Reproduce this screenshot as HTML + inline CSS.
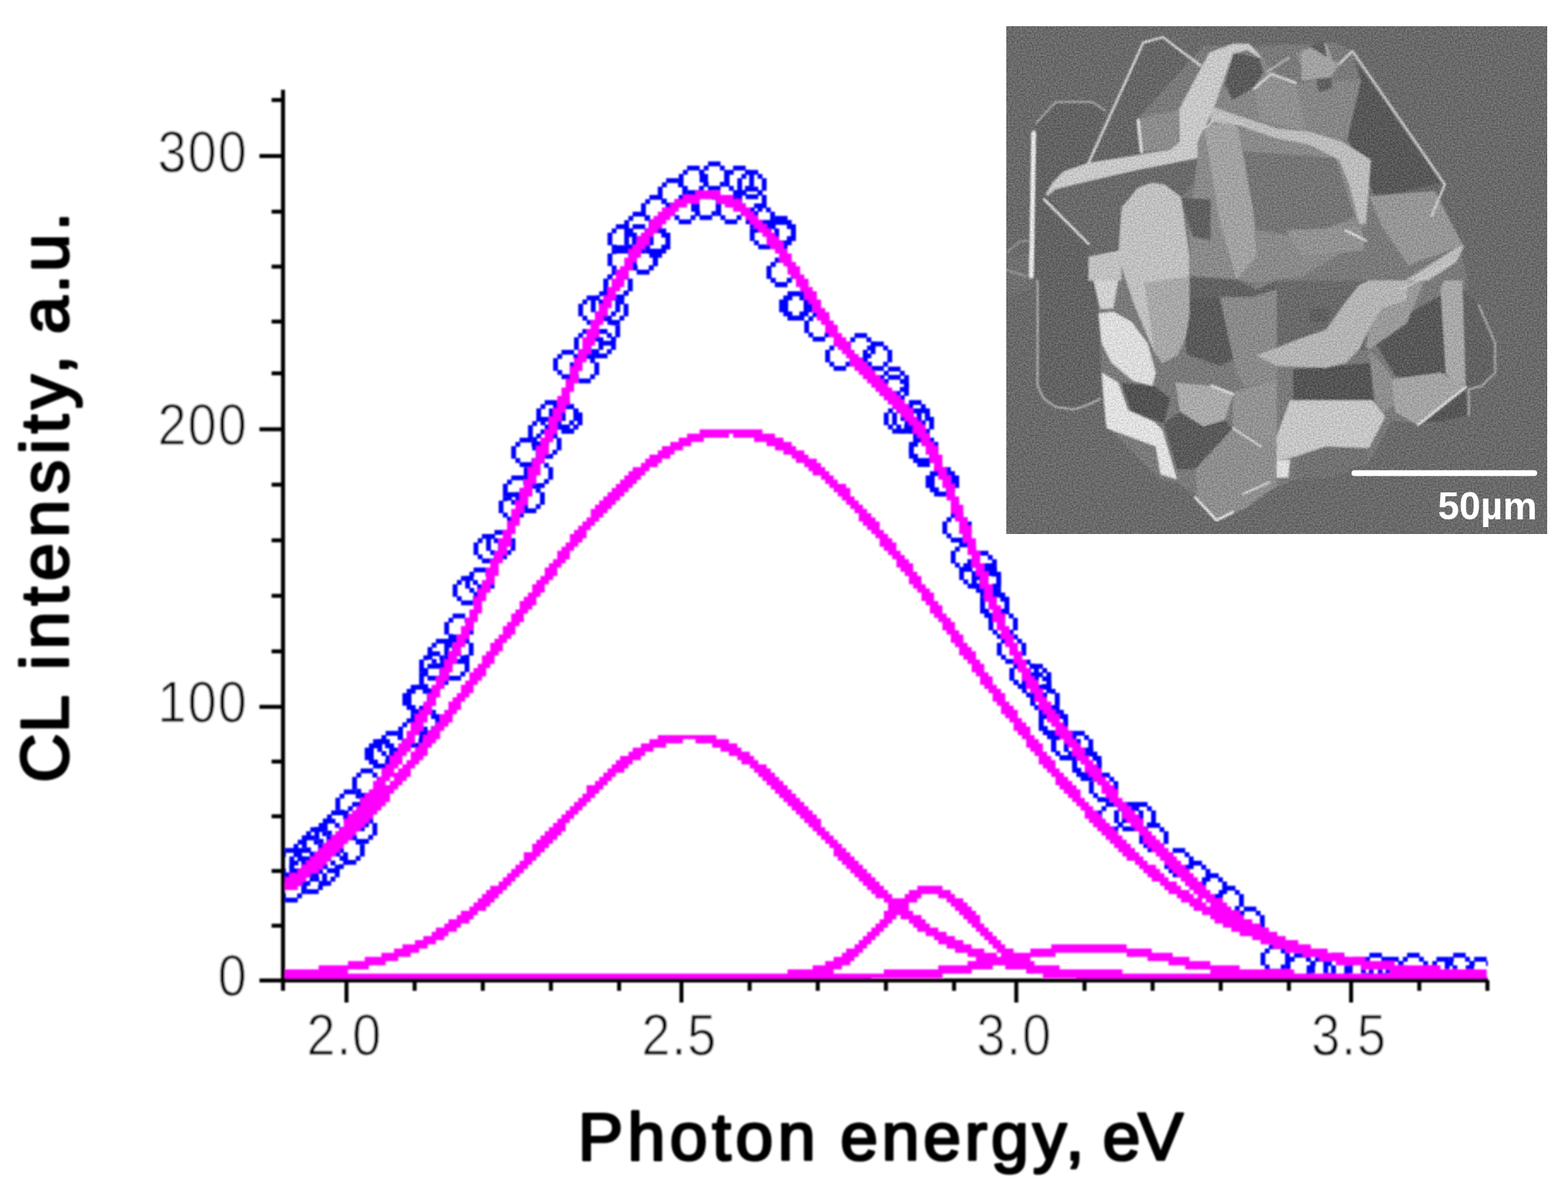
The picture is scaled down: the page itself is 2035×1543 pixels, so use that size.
<!DOCTYPE html>
<html><head><meta charset="utf-8"><title>CL spectrum</title><style>
html,body{margin:0;padding:0;background:#fff;overflow:hidden;}
svg{display:block;}
</style></head><body>
<svg xmlns="http://www.w3.org/2000/svg" xmlns:xlink="http://www.w3.org/1999/xlink" width="2035" height="1543" viewBox="0 0 2035 1543">
<defs><filter id="soft" x="-2%" y="-2%" width="104%" height="104%"><feGaussianBlur stdDeviation="1.1"/></filter></defs>
<defs><path id="c" d="M-8.15,-19.02L8.15,-19.02L8.15,-13.58L13.58,-13.58L13.58,-8.15L19.02,-8.15L19.02,8.15L13.58,8.15L13.58,13.58L8.15,13.58L8.15,19.02L-8.15,19.02L-8.15,13.58L-13.58,13.58L-13.58,8.15L-19.02,8.15L-19.02,-8.15L-13.58,-8.15L-13.58,-13.58L-8.15,-13.58Z M-7.33,-12.77L7.33,-12.77L7.33,-7.33L12.77,-7.33L12.77,7.33L7.33,7.33L7.33,12.77L-7.33,12.77L-7.33,7.33L-12.77,7.33L-12.77,-7.33L-7.33,-7.33Z" fill="#0000ff" fill-rule="evenodd"/></defs>
<rect width="100%" height="100%" fill="#fff"/>
<defs><clipPath id="ic"><rect x="1306" y="34" width="702" height="659"/></clipPath>
<filter id="blur1" x="-5%" y="-5%" width="110%" height="110%"><feGaussianBlur stdDeviation="1.1"/></filter>
<filter id="grain" x="0" y="0" width="100%" height="100%" color-interpolation-filters="sRGB"><feTurbulence type="fractalNoise" baseFrequency="0.45" numOctaves="2" seed="5" result="n0"/><feGaussianBlur in="n0" stdDeviation="0.6" result="n"/><feColorMatrix in="n" type="matrix" values="1 0 0 0 0  1 0 0 0 0  1 0 0 0 0  0 0 0 0 1" result="g"/><feComposite in="SourceGraphic" in2="g" operator="arithmetic" k1="0" k2="1" k3="0.3" k4="-0.15"/></filter>
</defs>
<g clip-path="url(#ic)"><g filter="url(#grain)">
<rect x="1306" y="34" width="702" height="659" fill="#6a6a6a"/>
<g filter="url(#blur1)">
<polygon points="1344.4,162.5 1370.0,134.3 1417.4,134.3 1434.5,145.4 1412.7,211.6 1359.4,254.3 1412.7,315.8 1429.8,375.6 1427.7,517.8 1410.6,525.9 1393.5,531.4 1370.0,528.0 1355.1,517.8 1346.6,500.7 1346.6,364.1 1339.3,358.5 1340.2,174.9" fill="#636363"/>
<polygon points="1412.7,211.6 1483.6,55.3 1509.2,48.1 1558.3,85.2 1562.6,72.4 1532.7,141.2 1532.7,183.9 1519.9,194.5" fill="#666666"/>
<polygon points="1306.0,332.9 1335.9,328.6 1340.2,375.6 1306.0,384.1" fill="#707070"/>
<polygon points="1476.8,153.6 1562.2,59.6 1630.5,59.6 1733.0,55.3 1754.3,66.0 1775.7,102.3 1767.1,183.4 1784.2,264.6 1895.2,324.4 1903.8,358.5 1903.8,520.8 1861.1,550.7 1805.6,546.4 1775.7,601.9 1677.5,623.2 1639.0,640.3 1604.9,665.9 1579.3,674.5 1553.7,644.6 1528.0,627.5 1506.7,623.2 1434.1,550.7 1429.8,482.3 1425.6,401.2 1451.2,332.9 1455.4,264.6 1481.1,196.3" fill="#7a7a7a"/>
<polygon points="1477.2,156.1 1492.2,149.7 1530.6,143.3 1528.5,188.1 1519.9,194.5 1481.5,196.7" fill="#8c8c8c"/>
<polygon points="1359.4,254.3 1412.7,235.1 1477.2,220.2 1554.1,205.2 1562.2,226.1 1532.7,256.5 1519.9,247.9 1511.4,239.4 1494.3,237.2 1477.2,243.6 1455.9,269.3 1453.3,312.0 1425.6,317.9 1417.0,311.5" fill="#6a6a6a"/>
<polygon points="1554.1,162.1 1657.0,170.6 1737.3,204.8 1750.1,239.0 1771.4,290.2 1733.0,332.9 1690.3,358.5 1630.5,367.0 1604.9,362.8 1545.1,358.5 1543.4,290.2 1554.1,205.2" fill="#8a8a8a"/>
<polygon points="1613.4,196.3 1733.0,204.8 1758.6,281.7 1690.3,307.3 1630.5,298.7" fill="#747474"/>
<polygon points="1668.9,298.7 1767.1,294.5 1771.4,324.4 1690.3,332.9" fill="#929292"/>
<polygon points="1562.2,162.1 1604.9,157.8 1626.2,273.1 1630.5,332.9 1604.9,362.8 1583.5,290.2" fill="#a2a2a2"/>
<polygon points="1532.7,256.5 1571.2,258.6 1571.2,312.0 1547.7,307.3" fill="#606060"/>
<polygon points="1573.3,138.6 1604.9,85.2 1639.0,74.6 1657.0,98.0 1689.0,108.7 1706.1,104.5 1768.0,104.5 1748.8,179.6 1742.4,183.9 1699.7,171.1 1657.0,166.8" fill="#868686"/>
<polygon points="1601.0,69.0 1633.9,75.0 1639.9,92.9 1627.9,113.0 1599.8,130.1 1589.9,110.0" fill="#5a5a5a"/>
<polygon points="1627.5,115.1 1649.7,95.9 1681.7,107.4 1695.0,169.8 1636.5,156.5" fill="#909090"/>
<polygon points="1681.7,67.7 1721.0,67.7 1727.0,103.6 1695.0,103.6" fill="#8e8e8e"/>
<polygon points="1703.1,78.8 1726.6,76.7 1728.7,115.1 1711.6,119.4" fill="#5e5e5e"/>
<polygon points="1689.0,66.0 1721.0,55.3 1729.6,78.8 1738.1,83.1 1727.4,100.2 1689.0,104.5" fill="#a2a2a2"/>
<polygon points="1698.8,59.6 1718.0,53.2 1722.3,74.6" fill="#5e5e5e"/>
<polygon points="1757.3,76.7 1870.9,237.2 1785.5,256.5 1748.8,179.6 1766.3,104.5" fill="#585858"/>
<polygon points="1777.0,254.3 1862.4,247.9 1898.7,318.4 1828.2,344.0 1794.0,294.9" fill="#969696"/>
<polygon points="1823.9,364.1 1892.3,320.5 1900.8,318.4 1890.1,339.7 1853.8,364.1" fill="#bcbcbc"/>
<polygon points="1785.1,445.2 1827.8,406.8 1874.3,381.1 1876.5,483.6 1848.7,492.2 1810.7,487.9" fill="#585858"/>
<polygon points="1897.8,372.6 1919.2,396.1 1936.2,445.2 1938.4,483.6 1912.7,502.8 1902.1,500.7" fill="#626262"/>
<polygon points="1874.3,364.1 1897.8,364.1 1902.1,500.7 1887.1,496.4 1876.5,483.6 1869.6,375.6" fill="#a8a8a8"/>
<polygon points="1657.0,364.1 1823.9,364.1 1827.8,406.8 1785.1,445.2 1776.5,453.7 1733.0,461.0 1657.0,461.0" fill="#6a6a6a"/>
<polygon points="1772.3,449.5 1776.5,428.1 1793.6,400.4 1825.6,389.7 1827.8,364.1 1848.7,364.1 1825.6,419.6 1776.5,453.7" fill="#9a9a9a"/>
<polygon points="1678.3,479.3 1780.8,470.8 1789.3,519.5 1678.3,519.5" fill="#555555"/>
<polygon points="1699.7,400.4 1727.4,400.4 1721.0,419.6 1699.7,417.4" fill="#5e5e5e"/>
<polygon points="1776.5,453.7 1806.4,487.9 1812.8,523.8 1789.3,538.7 1782.9,513.5" fill="#8e8e8e"/>
<polygon points="1806.4,492.2 1870.0,483.6 1902.1,502.4 1840.2,551.5 1810.7,534.4" fill="#a4a4a4"/>
<polygon points="1844.4,549.4 1902.1,505.0 1904.2,538.7 1870.0,547.2" fill="#575757"/>
<polygon points="1682.6,592.1 1721.0,579.3 1776.5,581.4 1774.4,598.5 1731.7,619.8 1678.3,619.8" fill="#727272"/>
<polygon points="1529.7,385.4 1625.8,385.4 1615.1,460.1 1583.1,475.1 1540.4,460.1" fill="#5a5a5a"/>
<polygon points="1583.1,385.4 1657.0,364.1 1657.0,492.2 1615.1,502.8 1604.5,483.6" fill="#8a8a8a"/>
<polygon points="1600.2,509.2 1657.0,492.2 1657.0,577.1 1600.2,555.8" fill="#939393"/>
<polygon points="1545.1,358.5 1604.9,362.8 1630.5,375.6 1657.0,364.1 1657.0,375.6 1625.8,385.4 1529.7,385.4" fill="#626262"/>
<polygon points="1455.4,496.4 1497.7,500.7 1519.1,517.3 1510.5,549.4 1468.3,534.4" fill="#525252"/>
<polygon points="1525.5,496.4 1572.4,500.7 1600.2,511.4 1589.5,545.1 1561.8,553.6 1531.9,534.4" fill="#aaaaaa"/>
<polygon points="1510.5,549.4 1531.9,534.4 1561.8,553.6 1589.5,545.1 1600.2,555.8 1561.8,609.1 1527.6,609.1" fill="#5a5a5a"/>
<polygon points="1551.1,609.1 1600.2,555.8 1657.0,577.1 1657.0,630.5 1615.1,660.4 1600.2,664.7 1578.8,675.3 1553.7,644.6" fill="#8e8e8e"/>
<polygon points="1357.2,252.2 1365.8,237.2 1380.7,222.3 1412.7,211.6 1519.9,194.5 1531.0,183.9 1530.6,141.2 1569.5,68.6 1600.2,56.6 1621.1,56.6 1636.9,73.7 1633.9,75.0 1618.6,64.7 1600.2,69.9 1573.3,145.4 1554.1,183.9 1554.1,205.2 1477.2,220.2 1412.7,235.1 1370.0,245.8 1359.4,254.3" fill="#c8c8c8"/>
<polygon points="1573.3,138.6 1657.0,166.8 1699.7,171.1 1742.4,183.9 1779.1,207.4 1772.7,290.6 1764.2,290.6 1750.9,239.4 1738.1,207.4 1699.7,188.1 1657.0,179.6 1604.9,162.1 1570.7,157.8" fill="#bcbcbc"/>
<polygon points="1455.9,269.3 1477.2,243.6 1494.3,237.2 1511.4,239.4 1532.7,256.0 1543.4,332.9 1543.4,409.7 1538.3,438.8 1528.0,461.0 1508.4,470.8 1498.1,456.7 1472.5,396.9 1451.2,332.9" fill="#c0c0c0"/>
<polygon points="1485.3,367.0 1543.4,358.5 1543.4,409.7 1538.3,438.8 1528.0,461.0 1508.4,470.8 1498.1,456.7" fill="#a8a8a8"/>
<polygon points="1419.2,364.1 1451.2,364.1 1444.8,400.4 1427.7,400.4" fill="#d0d0d0"/>
<polygon points="1425.6,406.8 1444.8,404.6 1468.3,417.4 1489.2,445.2 1499.9,483.6 1495.6,500.7 1470.4,494.3 1442.6,470.8 1429.8,445.2" fill="#dcdcdc"/>
<polygon points="1429.8,483.6 1451.2,496.4 1464.0,532.3 1497.7,547.2 1508.4,557.9 1527.6,622.0 1506.3,615.6 1499.9,579.3 1436.2,555.8 1432.0,513.5" fill="#e0e0e0"/>
<polygon points="1657.0,451.6 1689.0,438.8 1721.0,428.1 1746.6,391.8 1763.7,370.5 1776.5,364.1 1827.8,364.1 1825.6,389.7 1793.6,400.4 1776.5,428.1 1763.7,453.7 1746.6,470.8 1721.0,477.2 1657.0,475.1 1630.5,461.0" fill="#b4b4b4"/>
<polygon points="1674.1,519.5 1780.8,519.5 1797.9,540.8 1776.5,581.4 1721.0,579.3 1682.6,592.1 1657.0,598.5 1657.0,566.5" fill="#c6c6c6"/>
<polygon points="1657.0,598.5 1674.1,596.3 1671.9,619.8 1657.0,619.8" fill="#dedede"/>
<polygon points="1412.7,332.9 1455.4,324.4 1455.4,364.1 1412.7,364.1" fill="#c0c0c0"/>
<polyline points="1344.4,160.0 1370.0,132.2 1417.4,132.2 1434.5,143.3" fill="none" stroke="#a4a4a4" stroke-width="2.5" stroke-linejoin="round" stroke-linecap="round"/>
<polyline points="1341.4,172.8 1338.5,358.5" fill="none" stroke="#e6e6e6" stroke-width="6" stroke-linejoin="round" stroke-linecap="round"/>
<polyline points="1346.6,364.1 1346.6,500.7 1355.1,517.8 1370.0,528.0 1393.5,531.4 1410.6,525.9 1427.7,517.8" fill="none" stroke="#b0b0b0" stroke-width="2.5" stroke-linejoin="round" stroke-linecap="round"/>
<polyline points="1306.0,328.6 1323.1,313.7 1338.0,311.5" fill="none" stroke="#a0a0a0" stroke-width="2" stroke-linejoin="round" stroke-linecap="round"/>
<polyline points="1306.0,350.0 1331.6,358.5" fill="none" stroke="#a0a0a0" stroke-width="2" stroke-linejoin="round" stroke-linecap="round"/>
<polyline points="1412.7,211.6 1483.6,55.3 1509.2,48.1 1558.3,85.2" fill="none" stroke="#d0d0d0" stroke-width="3" stroke-linejoin="round" stroke-linecap="round"/>
<polyline points="1355.1,258.6 1412.7,316.2" fill="none" stroke="#d8d8d8" stroke-width="3" stroke-linejoin="round" stroke-linecap="round"/>
<polyline points="1477.2,156.1 1481.5,196.7" fill="none" stroke="#d8d8d8" stroke-width="4" stroke-linejoin="round" stroke-linecap="round"/>
<polyline points="1562.6,166.8 1584.0,149.7 1609.6,160.4" fill="none" stroke="#c8c8c8" stroke-width="2.5" stroke-linejoin="round" stroke-linecap="round"/>
<polyline points="1627.5,115.1 1649.7,95.9 1681.7,107.4" fill="none" stroke="#d4d4d4" stroke-width="3" stroke-linejoin="round" stroke-linecap="round"/>
<polyline points="1643.3,93.8 1673.2,74.6" fill="none" stroke="#bcbcbc" stroke-width="2" stroke-linejoin="round" stroke-linecap="round"/>
<polyline points="1738.1,83.1 1755.2,66.0 1875.2,239.4 1858.1,279.9" fill="none" stroke="#cccccc" stroke-width="3" stroke-linejoin="round" stroke-linecap="round"/>
<polyline points="1746.6,299.2 1772.3,312.0" fill="none" stroke="#d8d8d8" stroke-width="3" stroke-linejoin="round" stroke-linecap="round"/>
<polyline points="1551.1,645.4 1578.8,675.3 1600.2,664.7" fill="none" stroke="#e8e8e8" stroke-width="3" stroke-linejoin="round" stroke-linecap="round"/>
<polyline points="1613.0,641.2 1647.2,626.2" fill="none" stroke="#d4d4d4" stroke-width="2.5" stroke-linejoin="round" stroke-linecap="round"/>
<polyline points="1600.2,555.8 1636.5,579.3" fill="none" stroke="#d4d4d4" stroke-width="2.5" stroke-linejoin="round" stroke-linecap="round"/>
<polyline points="1572.4,500.7 1600.2,511.4" fill="none" stroke="#dddddd" stroke-width="3" stroke-linejoin="round" stroke-linecap="round"/>
<polyline points="1840.2,551.5 1902.1,502.4" fill="none" stroke="#dddddd" stroke-width="3" stroke-linejoin="round" stroke-linecap="round"/>
<polyline points="1919.2,396.1 1940.5,445.2 1940.5,483.6 1923.4,500.7 1906.3,505.0 1906.3,538.7" fill="none" stroke="#aaaaaa" stroke-width="2.5" stroke-linejoin="round" stroke-linecap="round"/>
<polyline points="1818.4,375.6 1882.4,341.4" fill="none" stroke="#c8c8c8" stroke-width="2.5" stroke-linejoin="round" stroke-linecap="round"/>
</g>
</g></g>
<rect x="1754" y="610.2" width="241" height="7.5" rx="3.7" fill="#fff"/>
<text x="1866" y="673.5" font-family="Liberation Sans, Arial, sans-serif" font-weight="bold" font-size="50" fill="#fff">50µm</text>
<g filter="url(#soft)">
<defs><clipPath id="pc"><rect x="366" y="100" width="1565" height="1169.5"/></clipPath></defs>
<g clip-path="url(#pc)"><use xlink:href="#c" x="378.3" y="1152.2"/><use xlink:href="#c" x="378.3" y="1119.6"/><use xlink:href="#c" x="405.4" y="1141.3"/><use xlink:href="#c" x="410.9" y="1092.4"/><use xlink:href="#c" x="394.6" y="1130.4"/><use xlink:href="#c" x="427.2" y="1081.5"/><use xlink:href="#c" x="454.3" y="1103.3"/><use xlink:href="#c" x="470.6" y="1076.1"/><use xlink:href="#c" x="454.3" y="1043.5"/><use xlink:href="#c" x="476.1" y="1016.3"/><use xlink:href="#c" x="497.8" y="978.3"/><use xlink:href="#c" x="492.4" y="978.3"/><use xlink:href="#c" x="508.7" y="967.5"/><use xlink:href="#c" x="535.8" y="951.2"/><use xlink:href="#c" x="546.7" y="907.7"/><use xlink:href="#c" x="552.1" y="940.3"/><use xlink:href="#c" x="552.1" y="934.9"/><use xlink:href="#c" x="541.3" y="907.7"/><use xlink:href="#c" x="563.0" y="864.2"/><use xlink:href="#c" x="563.0" y="880.5"/><use xlink:href="#c" x="573.9" y="847.9"/><use xlink:href="#c" x="595.6" y="842.5"/><use xlink:href="#c" x="590.2" y="864.2"/><use xlink:href="#c" x="595.6" y="815.3"/><use xlink:href="#c" x="606.5" y="766.4"/><use xlink:href="#c" x="622.8" y="755.6"/><use xlink:href="#c" x="633.6" y="712.1"/><use xlink:href="#c" x="649.9" y="706.7"/><use xlink:href="#c" x="666.2" y="657.8"/><use xlink:href="#c" x="671.7" y="636.0"/><use xlink:href="#c" x="688.0" y="646.9"/><use xlink:href="#c" x="698.8" y="614.3"/><use xlink:href="#c" x="682.5" y="587.1"/><use xlink:href="#c" x="709.7" y="576.3"/><use xlink:href="#c" x="731.4" y="538.2"/><use xlink:href="#c" x="736.9" y="543.7"/><use xlink:href="#c" x="715.1" y="538.2"/><use xlink:href="#c" x="736.9" y="543.7"/><use xlink:href="#c" x="704.3" y="560.0"/><use xlink:href="#c" x="736.9" y="473.0"/><use xlink:href="#c" x="758.6" y="478.5"/><use xlink:href="#c" x="764.0" y="445.9"/><use xlink:href="#c" x="780.3" y="445.9"/><use xlink:href="#c" x="785.8" y="429.6"/><use xlink:href="#c" x="769.5" y="402.4"/><use xlink:href="#c" x="796.6" y="402.4"/><use xlink:href="#c" x="802.1" y="369.8"/><use xlink:href="#c" x="807.5" y="337.2"/><use xlink:href="#c" x="834.7" y="337.2"/><use xlink:href="#c" x="829.2" y="310.1"/><use xlink:href="#c" x="851.0" y="310.1"/><use xlink:href="#c" x="785.8" y="397.0"/><use xlink:href="#c" x="802.1" y="369.8"/><use xlink:href="#c" x="807.5" y="310.1"/><use xlink:href="#c" x="834.7" y="337.2"/><use xlink:href="#c" x="851.0" y="315.5"/><use xlink:href="#c" x="829.2" y="293.8"/><use xlink:href="#c" x="851.0" y="272.0"/><use xlink:href="#c" x="872.7" y="250.3"/><use xlink:href="#c" x="899.9" y="234.0"/><use xlink:href="#c" x="927.0" y="228.6"/><use xlink:href="#c" x="889.0" y="272.0"/><use xlink:href="#c" x="916.1" y="266.6"/><use xlink:href="#c" x="948.7" y="272.0"/><use xlink:href="#c" x="959.6" y="234.0"/><use xlink:href="#c" x="975.9" y="239.4"/><use xlink:href="#c" x="975.9" y="261.2"/><use xlink:href="#c" x="986.8" y="282.9"/><use xlink:href="#c" x="992.2" y="304.6"/><use xlink:href="#c" x="1013.9" y="304.6"/><use xlink:href="#c" x="1013.9" y="299.2"/><use xlink:href="#c" x="1013.9" y="353.5"/><use xlink:href="#c" x="1013.9" y="353.5"/><use xlink:href="#c" x="1030.2" y="397.0"/><use xlink:href="#c" x="1035.7" y="397.0"/><use xlink:href="#c" x="1062.8" y="424.2"/><use xlink:href="#c" x="1090.0" y="462.2"/><use xlink:href="#c" x="1117.2" y="451.3"/><use xlink:href="#c" x="1138.9" y="462.2"/><use xlink:href="#c" x="1160.6" y="494.8"/><use xlink:href="#c" x="1176.9" y="543.7"/><use xlink:href="#c" x="1187.8" y="538.2"/><use xlink:href="#c" x="1160.6" y="505.6"/><use xlink:href="#c" x="1166.1" y="543.7"/><use xlink:href="#c" x="1193.2" y="549.1"/><use xlink:href="#c" x="1198.7" y="587.1"/><use xlink:href="#c" x="1198.7" y="581.7"/><use xlink:href="#c" x="1220.4" y="625.2"/><use xlink:href="#c" x="1225.8" y="625.2"/><use xlink:href="#c" x="1242.1" y="684.9"/><use xlink:href="#c" x="1253.0" y="723.0"/><use xlink:href="#c" x="1263.9" y="744.7"/><use xlink:href="#c" x="1274.7" y="733.8"/><use xlink:href="#c" x="1280.2" y="750.1"/><use xlink:href="#c" x="1280.2" y="755.6"/><use xlink:href="#c" x="1291.0" y="788.2"/><use xlink:href="#c" x="1291.0" y="782.7"/><use xlink:href="#c" x="1301.9" y="809.9"/><use xlink:href="#c" x="1312.8" y="842.5"/><use xlink:href="#c" x="1329.1" y="875.1"/><use xlink:href="#c" x="1329.1" y="875.1"/><use xlink:href="#c" x="1345.4" y="891.4"/><use xlink:href="#c" x="1345.4" y="880.5"/><use xlink:href="#c" x="1356.2" y="907.7"/><use xlink:href="#c" x="1356.2" y="907.7"/><use xlink:href="#c" x="1367.1" y="940.3"/><use xlink:href="#c" x="1367.1" y="934.9"/><use xlink:href="#c" x="1383.4" y="967.5"/><use xlink:href="#c" x="1383.4" y="967.5"/><use xlink:href="#c" x="1399.7" y="967.5"/><use xlink:href="#c" x="1410.6" y="994.6"/><use xlink:href="#c" x="1410.6" y="989.2"/><use xlink:href="#c" x="1432.3" y="1021.8"/><use xlink:href="#c" x="1443.2" y="1059.8"/><use xlink:href="#c" x="1464.9" y="1059.8"/><use xlink:href="#c" x="1481.2" y="1059.8"/><use xlink:href="#c" x="1497.5" y="1087.0"/><use xlink:href="#c" x="1530.1" y="1119.6"/><use xlink:href="#c" x="1551.8" y="1135.9"/><use xlink:href="#c" x="1573.5" y="1152.2"/><use xlink:href="#c" x="1595.3" y="1168.5"/><use xlink:href="#c" x="1622.4" y="1195.6"/><use xlink:href="#c" x="1655.0" y="1244.5"/><use xlink:href="#c" x="1687.6" y="1255.4"/><use xlink:href="#c" x="1714.8" y="1260.8"/><use xlink:href="#c" x="1736.5" y="1255.4"/><use xlink:href="#c" x="1763.7" y="1260.8"/><use xlink:href="#c" x="1785.4" y="1255.4"/><use xlink:href="#c" x="1807.2" y="1260.8"/><use xlink:href="#c" x="1834.3" y="1255.4"/><use xlink:href="#c" x="1872.4" y="1260.8"/><use xlink:href="#c" x="1894.1" y="1255.4"/><use xlink:href="#c" x="1921.3" y="1260.8"/><use xlink:href="#c" x="394.6" y="1119.6"/><use xlink:href="#c" x="432.6" y="1114.1"/><use xlink:href="#c" x="438.0" y="1070.7"/><use xlink:href="#c" x="465.2" y="1059.8"/><use xlink:href="#c" x="400.0" y="1103.3"/><use xlink:href="#c" x="421.7" y="1130.4"/></g>
<path fill="#ff00ff" d="M902.6 247.6H935.2V253.0H902.6ZM886.3 253.0H951.5V258.4H886.3ZM875.4 258.4H908.0V263.9H875.4ZM929.7 258.4H962.3V263.9H929.7ZM870.0 263.9H891.7V269.3H870.0ZM940.6 263.9H967.8V269.3H940.6ZM859.1 269.3H880.8V274.7H859.1ZM951.5 269.3H973.2V274.7H951.5ZM853.7 274.7H875.4V280.2H853.7ZM962.3 274.7H978.6V280.2H962.3ZM848.2 280.2H870.0V285.6H848.2ZM967.8 280.2H984.1V285.6H967.8ZM842.8 285.6H864.5V291.0H842.8ZM973.2 285.6H989.5V291.0H973.2ZM842.8 291.0H859.1V296.5H842.8ZM978.6 291.0H994.9V296.5H978.6ZM837.4 296.5H853.7V301.9H837.4ZM984.1 296.5H1000.4V301.9H984.1ZM831.9 301.9H848.2V307.3H831.9ZM989.5 301.9H1005.8V307.3H989.5ZM994.9 307.3H1011.2V312.8H994.9ZM826.5 307.3H842.8V318.2H826.5ZM994.9 312.8H1016.7V318.2H994.9ZM821.1 318.2H837.4V323.6H821.1ZM1000.4 318.2H1016.7V323.6H1000.4ZM1005.8 323.6H1022.1V329.1H1005.8ZM815.6 323.6H831.9V334.5H815.6ZM810.2 334.5H826.5V339.9H810.2ZM1011.2 329.1H1027.5V339.9H1011.2ZM810.2 339.9H821.1V345.4H810.2ZM1016.7 339.9H1033.0V345.4H1016.7ZM804.8 345.4H821.1V350.8H804.8ZM1022.1 345.4H1038.4V356.2H1022.1ZM799.3 350.8H815.6V361.7H799.3ZM1027.5 356.2H1043.8V361.7H1027.5ZM793.9 361.7H810.2V372.5H793.9ZM1033.0 361.7H1049.3V372.5H1033.0ZM788.5 372.5H804.8V378.0H788.5ZM1038.4 372.5H1054.7V378.0H1038.4ZM788.5 378.0H799.3V383.4H788.5ZM783.0 383.4H799.3V388.8H783.0ZM1043.8 378.0H1060.1V388.8H1043.8ZM783.0 388.8H793.9V394.3H783.0ZM1049.3 388.8H1065.6V394.3H1049.3ZM777.6 394.3H793.9V399.7H777.6ZM1054.7 394.3H1065.6V399.7H1054.7ZM777.6 399.7H788.5V405.1H777.6ZM1054.7 399.7H1071.0V405.1H1054.7ZM772.2 405.1H788.5V410.6H772.2ZM772.2 410.6H783.0V416.0H772.2ZM1060.1 405.1H1076.4V416.0H1060.1ZM766.7 416.0H783.0V421.4H766.7ZM1065.6 416.0H1081.9V421.4H1065.6ZM766.7 421.4H777.6V426.9H766.7ZM1071.0 421.4H1087.3V432.3H1071.0ZM761.3 426.9H777.6V437.7H761.3ZM1076.4 432.3H1092.7V437.7H1076.4ZM1081.9 437.7H1098.2V443.2H1081.9ZM755.9 437.7H772.2V448.6H755.9ZM1081.9 443.2H1103.6V448.6H1081.9ZM755.9 448.6H766.7V454.0H755.9ZM1087.3 448.6H1103.6V454.0H1087.3ZM750.4 454.0H766.7V459.5H750.4ZM1092.7 454.0H1109.0V459.5H1092.7ZM750.4 459.5H761.3V464.9H750.4ZM1098.2 459.5H1114.5V464.9H1098.2ZM745.0 464.9H761.3V470.3H745.0ZM1103.6 464.9H1119.9V470.3H1103.6ZM745.0 470.3H755.9V475.8H745.0ZM1103.6 470.3H1125.3V475.8H1103.6ZM739.6 475.8H755.9V481.2H739.6ZM1109.0 475.8H1130.8V481.2H1109.0ZM1114.5 481.2H1136.2V486.6H1114.5ZM739.6 481.2H750.4V492.1H739.6ZM1119.9 486.6H1141.6V492.1H1119.9ZM734.1 492.1H750.4V497.5H734.1ZM1125.3 492.1H1147.1V497.5H1125.3ZM734.1 497.5H745.0V502.9H734.1ZM1130.8 497.5H1152.5V502.9H1130.8ZM728.7 502.9H745.0V508.4H728.7ZM1136.2 502.9H1157.9V508.4H1136.2ZM728.7 508.4H739.6V513.8H728.7ZM1141.6 508.4H1163.4V513.8H1141.6ZM1147.1 513.8H1168.8V519.2H1147.1ZM723.3 513.8H739.6V524.7H723.3ZM1152.5 519.2H1174.2V524.7H1152.5ZM723.3 524.7H734.1V530.1H723.3ZM1157.9 524.7H1179.6V530.1H1157.9ZM717.8 530.1H734.1V535.5H717.8ZM1163.4 530.1H1185.1V535.5H1163.4ZM717.8 535.5H728.7V541.0H717.8ZM1168.8 535.5H1185.1V541.0H1168.8ZM712.4 541.0H728.7V546.4H712.4ZM1174.2 541.0H1190.5V546.4H1174.2ZM1179.6 546.4H1195.9V551.8H1179.6ZM712.4 546.4H723.3V557.3H712.4ZM707.0 557.3H723.3V562.7H707.0ZM908.0 557.3H989.5V562.7H908.0ZM1185.1 551.8H1201.4V562.7H1185.1ZM707.0 562.7H717.8V568.1H707.0ZM891.7 562.7H946.0V568.1H891.7ZM951.5 562.7H1005.8V568.1H951.5ZM1190.5 562.7H1206.8V568.1H1190.5ZM701.5 568.1H717.8V573.6H701.5ZM880.8 568.1H913.4V573.6H880.8ZM978.6 568.1H1016.7V573.6H978.6ZM1195.9 568.1H1206.8V573.6H1195.9ZM701.5 573.6H712.4V579.0H701.5ZM870.0 573.6H897.1V579.0H870.0ZM994.9 573.6H1027.5V579.0H994.9ZM1195.9 573.6H1212.2V579.0H1195.9ZM859.1 579.0H886.3V584.4H859.1ZM1005.8 579.0H1033.0V584.4H1005.8ZM696.1 579.0H712.4V589.9H696.1ZM853.7 584.4H875.4V589.9H853.7ZM1016.7 584.4H1043.8V589.9H1016.7ZM1201.4 579.0H1217.7V589.9H1201.4ZM696.1 589.9H707.0V595.3H696.1ZM842.8 589.9H870.0V595.3H842.8ZM1027.5 589.9H1049.3V595.3H1027.5ZM690.7 595.3H707.0V600.7H690.7ZM837.4 595.3H859.1V600.7H837.4ZM1033.0 595.3H1060.1V600.7H1033.0ZM1206.8 589.9H1223.1V600.7H1206.8ZM690.7 600.7H701.5V606.2H690.7ZM831.9 600.7H853.7V606.2H831.9ZM1043.8 600.7H1065.6V606.2H1043.8ZM1212.2 600.7H1223.1V606.2H1212.2ZM821.1 606.2H842.8V611.6H821.1ZM1049.3 606.2H1071.0V611.6H1049.3ZM1212.2 606.2H1228.5V611.6H1212.2ZM685.2 606.2H701.5V617.0H685.2ZM815.6 611.6H837.4V617.0H815.6ZM1054.7 611.6H1076.4V617.0H1054.7ZM1217.7 611.6H1228.5V617.0H1217.7ZM685.2 617.0H696.1V622.5H685.2ZM810.2 617.0H831.9V622.5H810.2ZM1065.6 617.0H1081.9V622.5H1065.6ZM1217.7 617.0H1234.0V622.5H1217.7ZM679.8 622.5H696.1V627.9H679.8ZM804.8 622.5H826.5V627.9H804.8ZM1071.0 622.5H1087.3V627.9H1071.0ZM1223.1 622.5H1234.0V627.9H1223.1ZM679.8 627.9H690.7V633.3H679.8ZM799.3 627.9H821.1V633.3H799.3ZM1076.4 627.9H1098.2V633.3H1076.4ZM1223.1 627.9H1239.4V633.3H1223.1ZM793.9 633.3H815.6V638.8H793.9ZM1081.9 633.3H1103.6V638.8H1081.9ZM674.4 633.3H690.7V644.2H674.4ZM788.5 638.8H810.2V644.2H788.5ZM1087.3 638.8H1103.6V644.2H1087.3ZM1228.5 633.3H1239.4V644.2H1228.5ZM674.4 644.2H685.2V649.6H674.4ZM783.0 644.2H804.8V649.6H783.0ZM1092.7 644.2H1109.0V649.6H1092.7ZM1228.5 644.2H1244.8V649.6H1228.5ZM668.9 649.6H685.2V655.1H668.9ZM777.6 649.6H799.3V655.1H777.6ZM1098.2 649.6H1114.5V655.1H1098.2ZM1234.0 649.6H1244.8V655.1H1234.0ZM668.9 655.1H679.8V660.5H668.9ZM772.2 655.1H793.9V660.5H772.2ZM1103.6 655.1H1119.9V660.5H1103.6ZM663.5 660.5H679.8V665.9H663.5ZM766.7 660.5H788.5V665.9H766.7ZM1109.0 660.5H1125.3V665.9H1109.0ZM1234.0 655.1H1250.3V665.9H1234.0ZM766.7 665.9H783.0V671.4H766.7ZM1114.5 665.9H1130.8V671.4H1114.5ZM1239.4 665.9H1250.3V671.4H1239.4ZM663.5 665.9H674.4V676.8H663.5ZM761.3 671.4H777.6V676.8H761.3ZM1114.5 671.4H1136.2V676.8H1114.5ZM1239.4 671.4H1255.7V676.8H1239.4ZM658.1 676.8H674.4V682.2H658.1ZM755.9 676.8H772.2V682.2H755.9ZM1119.9 676.8H1141.6V682.2H1119.9ZM1244.8 676.8H1255.7V682.2H1244.8ZM658.1 682.2H668.9V687.7H658.1ZM750.4 682.2H766.7V687.7H750.4ZM1125.3 682.2H1141.6V687.7H1125.3ZM652.6 687.7H668.9V693.1H652.6ZM745.0 687.7H761.3V693.1H745.0ZM1130.8 687.7H1147.1V693.1H1130.8ZM1244.8 682.2H1261.1V693.1H1244.8ZM652.6 693.1H663.5V698.5H652.6ZM739.6 693.1H761.3V698.5H739.6ZM1136.2 693.1H1152.5V698.5H1136.2ZM1250.3 693.1H1261.1V698.5H1250.3ZM739.6 698.5H755.9V704.0H739.6ZM1141.6 698.5H1157.9V704.0H1141.6ZM1250.3 698.5H1266.6V704.0H1250.3ZM647.2 698.5H663.5V709.4H647.2ZM734.1 704.0H750.4V709.4H734.1ZM1141.6 704.0H1163.4V709.4H1141.6ZM647.2 709.4H658.1V714.8H647.2ZM728.7 709.4H745.0V714.8H728.7ZM1147.1 709.4H1163.4V714.8H1147.1ZM1255.7 704.0H1266.6V714.8H1255.7ZM641.8 714.8H658.1V720.3H641.8ZM1152.5 714.8H1168.8V720.3H1152.5ZM1255.7 714.8H1272.0V720.3H1255.7ZM641.8 720.3H652.6V725.7H641.8ZM723.3 714.8H739.6V725.7H723.3ZM1157.9 720.3H1174.2V725.7H1157.9ZM636.3 725.7H652.6V731.1H636.3ZM717.8 725.7H734.1V731.1H717.8ZM1163.4 725.7H1179.6V731.1H1163.4ZM1261.1 720.3H1272.0V731.1H1261.1ZM636.3 731.1H647.2V736.5H636.3ZM712.4 731.1H728.7V736.5H712.4ZM1163.4 731.1H1185.1V736.5H1163.4ZM1261.1 731.1H1277.4V736.5H1261.1ZM1168.8 736.5H1185.1V742.0H1168.8ZM1266.6 736.5H1277.4V742.0H1266.6ZM630.9 736.5H647.2V747.4H630.9ZM707.0 736.5H723.3V747.4H707.0ZM1174.2 742.0H1190.5V747.4H1174.2ZM1266.6 742.0H1282.9V747.4H1266.6ZM630.9 747.4H641.8V752.8H630.9ZM701.5 747.4H717.8V752.8H701.5ZM625.5 752.8H641.8V758.3H625.5ZM696.1 752.8H712.4V758.3H696.1ZM1179.6 747.4H1195.9V758.3H1179.6ZM1272.0 747.4H1282.9V758.3H1272.0ZM625.5 758.3H636.3V763.7H625.5ZM1185.1 758.3H1201.4V763.7H1185.1ZM1272.0 758.3H1288.3V763.7H1272.0ZM620.1 763.7H636.3V769.1H620.1ZM690.7 758.3H707.0V769.1H690.7ZM1190.5 763.7H1206.8V769.1H1190.5ZM620.1 769.1H630.9V774.6H620.1ZM685.2 769.1H701.5V774.6H685.2ZM1277.4 763.7H1288.3V774.6H1277.4ZM614.6 774.6H630.9V780.0H614.6ZM679.8 774.6H696.1V780.0H679.8ZM1195.9 769.1H1212.2V780.0H1195.9ZM1277.4 774.6H1293.7V780.0H1277.4ZM674.4 780.0H696.1V785.4H674.4ZM1201.4 780.0H1217.7V785.4H1201.4ZM1282.9 780.0H1293.7V785.4H1282.9ZM614.6 780.0H625.5V790.9H614.6ZM674.4 785.4H690.7V790.9H674.4ZM1282.9 785.4H1299.2V790.9H1282.9ZM609.2 790.9H625.5V796.3H609.2ZM668.9 790.9H685.2V796.3H668.9ZM1206.8 785.4H1223.1V796.3H1206.8ZM1288.3 790.9H1299.2V796.3H1288.3ZM609.2 796.3H620.1V801.7H609.2ZM1212.2 796.3H1228.5V801.7H1212.2ZM603.8 801.7H620.1V807.2H603.8ZM663.5 796.3H679.8V807.2H663.5ZM1217.7 801.7H1234.0V807.2H1217.7ZM1288.3 796.3H1304.6V807.2H1288.3ZM603.8 807.2H614.6V812.6H603.8ZM658.1 807.2H674.4V812.6H658.1ZM1293.7 807.2H1304.6V812.6H1293.7ZM598.3 812.6H614.6V818.0H598.3ZM1223.1 807.2H1239.4V818.0H1223.1ZM1293.7 812.6H1310.0V818.0H1293.7ZM598.3 818.0H609.2V823.5H598.3ZM652.6 812.6H668.9V823.5H652.6ZM1228.5 818.0H1244.8V823.5H1228.5ZM1299.2 818.0H1310.0V823.5H1299.2ZM592.9 823.5H609.2V828.9H592.9ZM647.2 823.5H663.5V828.9H647.2ZM1299.2 823.5H1315.5V828.9H1299.2ZM592.9 828.9H603.8V834.3H592.9ZM641.8 828.9H658.1V834.3H641.8ZM1234.0 823.5H1250.3V834.3H1234.0ZM1304.6 828.9H1315.5V834.3H1304.6ZM587.5 834.3H603.8V839.8H587.5ZM1239.4 834.3H1255.7V839.8H1239.4ZM1304.6 834.3H1320.9V839.8H1304.6ZM587.5 839.8H598.3V845.2H587.5ZM636.3 834.3H652.6V845.2H636.3ZM1244.8 839.8H1261.1V845.2H1244.8ZM1310.0 839.8H1320.9V845.2H1310.0ZM582.0 845.2H598.3V850.6H582.0ZM630.9 845.2H647.2V850.6H630.9ZM1244.8 845.2H1266.6V850.6H1244.8ZM1310.0 845.2H1326.3V850.6H1310.0ZM582.0 850.6H592.9V856.1H582.0ZM1250.3 850.6H1266.6V856.1H1250.3ZM1315.5 850.6H1326.3V856.1H1315.5ZM576.6 856.1H592.9V861.5H576.6ZM625.5 850.6H641.8V861.5H625.5ZM1255.7 856.1H1272.0V861.5H1255.7ZM1315.5 856.1H1331.8V861.5H1315.5ZM576.6 861.5H587.5V866.9H576.6ZM620.1 861.5H636.3V866.9H620.1ZM1320.9 861.5H1331.8V866.9H1320.9ZM571.2 866.9H587.5V872.4H571.2ZM614.6 866.9H630.9V872.4H614.6ZM1261.1 861.5H1277.4V872.4H1261.1ZM1320.9 866.9H1337.2V872.4H1320.9ZM571.2 872.4H582.0V877.8H571.2ZM609.2 872.4H630.9V877.8H609.2ZM1266.6 872.4H1282.9V877.8H1266.6ZM1326.3 872.4H1337.2V877.8H1326.3ZM565.7 877.8H582.0V883.2H565.7ZM609.2 877.8H625.5V883.2H609.2ZM1326.3 877.8H1342.6V883.2H1326.3ZM565.7 883.2H576.6V888.7H565.7ZM603.8 883.2H620.1V888.7H603.8ZM1272.0 877.8H1288.3V888.7H1272.0ZM560.3 888.7H576.6V894.1H560.3ZM1277.4 888.7H1293.7V894.1H1277.4ZM1331.8 883.2H1348.1V894.1H1331.8ZM560.3 894.1H571.2V899.5H560.3ZM598.3 888.7H614.6V899.5H598.3ZM1282.9 894.1H1299.2V899.5H1282.9ZM1337.2 894.1H1353.5V899.5H1337.2ZM554.9 899.5H571.2V905.0H554.9ZM592.9 899.5H609.2V905.0H592.9ZM1342.6 899.5H1353.5V905.0H1342.6ZM554.9 905.0H565.7V910.4H554.9ZM587.5 905.0H603.8V910.4H587.5ZM1288.3 899.5H1304.6V910.4H1288.3ZM1342.6 905.0H1358.9V910.4H1342.6ZM549.4 910.4H565.7V915.8H549.4ZM1293.7 910.4H1310.0V915.8H1293.7ZM549.4 915.8H560.3V921.3H549.4ZM582.0 910.4H598.3V921.3H582.0ZM1299.2 915.8H1315.5V921.3H1299.2ZM1348.1 910.4H1364.4V921.3H1348.1ZM544.0 921.3H560.3V926.7H544.0ZM576.6 921.3H592.9V926.7H576.6ZM1299.2 921.3H1320.9V926.7H1299.2ZM1353.5 921.3H1369.8V926.7H1353.5ZM1304.6 926.7H1320.9V932.1H1304.6ZM538.6 926.7H554.9V937.6H538.6ZM571.2 926.7H587.5V937.6H571.2ZM1310.0 932.1H1326.3V937.6H1310.0ZM1358.9 926.7H1375.2V937.6H1358.9ZM565.7 937.6H582.0V943.0H565.7ZM1315.5 937.6H1331.8V943.0H1315.5ZM1364.4 937.6H1380.7V943.0H1364.4ZM533.1 937.6H549.4V948.4H533.1ZM560.3 943.0H576.6V948.4H560.3ZM1315.5 943.0H1337.2V948.4H1315.5ZM1369.8 943.0H1386.1V948.4H1369.8ZM527.7 948.4H544.0V953.9H527.7ZM554.9 948.4H571.2V953.9H554.9ZM1320.9 948.4H1337.2V953.9H1320.9ZM1369.8 948.4H1391.5V953.9H1369.8ZM527.7 953.9H538.6V959.3H527.7ZM549.4 953.9H571.2V959.3H549.4ZM853.7 953.9H929.7V959.3H853.7ZM1326.3 953.9H1342.6V959.3H1326.3ZM1375.2 953.9H1391.5V959.3H1375.2ZM522.3 959.3H538.6V964.7H522.3ZM549.4 959.3H565.7V964.7H549.4ZM842.8 959.3H886.3V964.7H842.8ZM902.6 959.3H946.0V964.7H902.6ZM1331.8 959.3H1348.1V964.7H1331.8ZM1380.7 959.3H1397.0V964.7H1380.7ZM544.0 964.7H560.3V970.2H544.0ZM831.9 964.7H864.5V970.2H831.9ZM924.3 964.7H956.9V970.2H924.3ZM1331.8 964.7H1353.5V970.2H1331.8ZM1386.1 964.7H1402.4V970.2H1386.1ZM516.8 964.7H533.1V975.6H516.8ZM538.6 970.2H554.9V975.6H538.6ZM821.1 970.2H848.2V975.6H821.1ZM935.2 970.2H962.3V975.6H935.2ZM1337.2 970.2H1353.5V975.6H1337.2ZM511.4 975.6H527.7V981.0H511.4ZM533.1 975.6H554.9V981.0H533.1ZM815.6 975.6H837.4V981.0H815.6ZM946.0 975.6H973.2V981.0H946.0ZM1342.6 975.6H1358.9V981.0H1342.6ZM1391.5 970.2H1407.8V981.0H1391.5ZM533.1 981.0H549.4V986.5H533.1ZM804.8 981.0H831.9V986.5H804.8ZM956.9 981.0H978.6V986.5H956.9ZM1348.1 981.0H1364.4V986.5H1348.1ZM1397.0 981.0H1413.3V986.5H1397.0ZM506.0 981.0H522.3V991.9H506.0ZM527.7 986.5H544.0V991.9H527.7ZM799.3 986.5H821.1V991.9H799.3ZM962.3 986.5H984.1V991.9H962.3ZM1348.1 986.5H1369.8V991.9H1348.1ZM1402.4 986.5H1418.7V991.9H1402.4ZM500.5 991.9H516.8V997.3H500.5ZM522.3 991.9H538.6V997.3H522.3ZM793.9 991.9H815.6V997.3H793.9ZM973.2 991.9H994.9V997.3H973.2ZM1353.5 991.9H1369.8V997.3H1353.5ZM1407.8 991.9H1424.1V997.3H1407.8ZM495.1 997.3H511.4V1002.8H495.1ZM516.8 997.3H533.1V1002.8H516.8ZM788.5 997.3H810.2V1002.8H788.5ZM978.6 997.3H1000.4V1002.8H978.6ZM1358.9 997.3H1375.2V1002.8H1358.9ZM1407.8 997.3H1429.6V1002.8H1407.8ZM495.1 1002.8H533.1V1008.2H495.1ZM783.0 1002.8H799.3V1008.2H783.0ZM984.1 1002.8H1005.8V1008.2H984.1ZM1364.4 1002.8H1380.7V1008.2H1364.4ZM1413.3 1002.8H1429.6V1008.2H1413.3ZM489.7 1008.2H506.0V1013.6H489.7ZM511.4 1008.2H527.7V1013.6H511.4ZM777.6 1008.2H793.9V1013.6H777.6ZM989.5 1008.2H1011.2V1013.6H989.5ZM1369.8 1008.2H1386.1V1013.6H1369.8ZM1418.7 1008.2H1435.0V1013.6H1418.7ZM484.2 1013.6H500.5V1019.1H484.2ZM506.0 1013.6H522.3V1019.1H506.0ZM772.2 1013.6H788.5V1019.1H772.2ZM994.9 1013.6H1016.7V1019.1H994.9ZM1369.8 1013.6H1391.5V1019.1H1369.8ZM1424.1 1013.6H1440.4V1019.1H1424.1ZM484.2 1019.1H516.8V1024.5H484.2ZM761.3 1019.1H783.0V1024.5H761.3ZM1000.4 1019.1H1022.1V1024.5H1000.4ZM1375.2 1019.1H1397.0V1024.5H1375.2ZM1429.6 1019.1H1445.9V1024.5H1429.6ZM478.8 1024.5H511.4V1029.9H478.8ZM761.3 1024.5H777.6V1029.9H761.3ZM1005.8 1024.5H1027.5V1029.9H1005.8ZM1380.7 1024.5H1402.4V1029.9H1380.7ZM1429.6 1024.5H1451.3V1029.9H1429.6ZM473.4 1029.9H506.0V1035.4H473.4ZM755.9 1029.9H772.2V1035.4H755.9ZM1011.2 1029.9H1033.0V1035.4H1011.2ZM1386.1 1029.9H1402.4V1035.4H1386.1ZM1435.0 1029.9H1451.3V1035.4H1435.0ZM467.9 1035.4H506.0V1040.8H467.9ZM750.4 1035.4H766.7V1040.8H750.4ZM1016.7 1035.4H1038.4V1040.8H1016.7ZM1391.5 1035.4H1407.8V1040.8H1391.5ZM1440.4 1035.4H1456.7V1040.8H1440.4ZM467.9 1040.8H500.5V1046.2H467.9ZM745.0 1040.8H761.3V1046.2H745.0ZM1022.1 1040.8H1043.8V1046.2H1022.1ZM1397.0 1040.8H1413.3V1046.2H1397.0ZM1445.9 1040.8H1462.2V1046.2H1445.9ZM462.5 1046.2H495.1V1051.7H462.5ZM739.6 1046.2H755.9V1051.7H739.6ZM1027.5 1046.2H1049.3V1051.7H1027.5ZM1402.4 1046.2H1418.7V1051.7H1402.4ZM1451.3 1046.2H1467.6V1051.7H1451.3ZM457.1 1051.7H489.7V1057.1H457.1ZM734.1 1051.7H750.4V1057.1H734.1ZM1033.0 1051.7H1054.7V1057.1H1033.0ZM1407.8 1051.7H1424.1V1057.1H1407.8ZM1456.7 1051.7H1473.0V1057.1H1456.7ZM451.6 1057.1H484.2V1062.5H451.6ZM728.7 1057.1H745.0V1062.5H728.7ZM1038.4 1057.1H1060.1V1062.5H1038.4ZM1407.8 1057.1H1429.6V1062.5H1407.8ZM1456.7 1057.1H1478.5V1062.5H1456.7ZM446.2 1062.5H478.8V1068.0H446.2ZM723.3 1062.5H739.6V1068.0H723.3ZM1043.8 1062.5H1065.6V1068.0H1043.8ZM1413.3 1062.5H1435.0V1068.0H1413.3ZM1462.2 1062.5H1483.9V1068.0H1462.2ZM446.2 1068.0H473.4V1073.4H446.2ZM717.8 1068.0H734.1V1073.4H717.8ZM1049.3 1068.0H1065.6V1073.4H1049.3ZM1418.7 1068.0H1440.4V1073.4H1418.7ZM1467.6 1068.0H1483.9V1073.4H1467.6ZM440.8 1073.4H467.9V1078.8H440.8ZM712.4 1073.4H734.1V1078.8H712.4ZM1054.7 1073.4H1071.0V1078.8H1054.7ZM1424.1 1073.4H1445.9V1078.8H1424.1ZM1473.0 1073.4H1489.3V1078.8H1473.0ZM435.3 1078.8H462.5V1084.3H435.3ZM707.0 1078.8H728.7V1084.3H707.0ZM1060.1 1078.8H1076.4V1084.3H1060.1ZM1429.6 1078.8H1451.3V1084.3H1429.6ZM1478.5 1078.8H1494.8V1084.3H1478.5ZM429.9 1084.3H457.1V1089.7H429.9ZM701.5 1084.3H723.3V1089.7H701.5ZM1065.6 1084.3H1081.9V1089.7H1065.6ZM1435.0 1084.3H1456.7V1089.7H1435.0ZM1483.9 1084.3H1500.2V1089.7H1483.9ZM424.5 1089.7H451.6V1095.1H424.5ZM696.1 1089.7H717.8V1095.1H696.1ZM1071.0 1089.7H1087.3V1095.1H1071.0ZM1440.4 1089.7H1462.2V1095.1H1440.4ZM1483.9 1089.7H1505.6V1095.1H1483.9ZM419.0 1095.1H446.2V1100.6H419.0ZM690.7 1095.1H712.4V1100.6H690.7ZM1076.4 1095.1H1092.7V1100.6H1076.4ZM1445.9 1095.1H1467.6V1100.6H1445.9ZM1489.3 1095.1H1511.1V1100.6H1489.3ZM413.6 1100.6H440.8V1106.0H413.6ZM690.7 1100.6H707.0V1106.0H690.7ZM1081.9 1100.6H1098.2V1106.0H1081.9ZM1451.3 1100.6H1473.0V1106.0H1451.3ZM1494.8 1100.6H1516.5V1106.0H1494.8ZM408.2 1106.0H435.3V1111.4H408.2ZM679.8 1106.0H701.5V1111.4H679.8ZM1081.9 1106.0H1103.6V1111.4H1081.9ZM1456.7 1106.0H1478.5V1111.4H1456.7ZM1500.2 1106.0H1521.9V1111.4H1500.2ZM402.7 1111.4H429.9V1116.9H402.7ZM679.8 1111.4H696.1V1116.9H679.8ZM1087.3 1111.4H1109.0V1116.9H1087.3ZM1462.2 1111.4H1483.9V1116.9H1462.2ZM1505.6 1111.4H1527.4V1116.9H1505.6ZM397.3 1116.9H424.5V1122.3H397.3ZM674.4 1116.9H690.7V1122.3H674.4ZM1092.7 1116.9H1114.5V1122.3H1092.7ZM1473.0 1116.9H1489.3V1122.3H1473.0ZM1511.1 1116.9H1532.8V1122.3H1511.1ZM391.9 1122.3H419.0V1127.7H391.9ZM668.9 1122.3H685.2V1127.7H668.9ZM1098.2 1122.3H1119.9V1127.7H1098.2ZM1478.5 1122.3H1500.2V1127.7H1478.5ZM1516.5 1122.3H1538.2V1127.7H1516.5ZM386.4 1127.7H413.6V1133.2H386.4ZM663.5 1127.7H679.8V1133.2H663.5ZM1103.6 1127.7H1125.3V1133.2H1103.6ZM1483.9 1127.7H1505.6V1133.2H1483.9ZM1521.9 1127.7H1543.7V1133.2H1521.9ZM375.6 1133.2H402.7V1138.6H375.6ZM658.1 1133.2H674.4V1138.6H658.1ZM1109.0 1133.2H1130.8V1138.6H1109.0ZM1489.3 1133.2H1511.1V1138.6H1489.3ZM1527.4 1133.2H1549.1V1138.6H1527.4ZM370.1 1138.6H397.3V1144.0H370.1ZM652.6 1138.6H668.9V1144.0H652.6ZM1114.5 1138.6H1136.2V1144.0H1114.5ZM1494.8 1138.6H1516.5V1144.0H1494.8ZM1532.8 1138.6H1554.5V1144.0H1532.8ZM370.1 1144.0H391.9V1149.5H370.1ZM647.2 1144.0H663.5V1149.5H647.2ZM1119.9 1144.0H1141.6V1149.5H1119.9ZM1505.6 1144.0H1527.4V1149.5H1505.6ZM1538.2 1144.0H1560.0V1149.5H1538.2ZM370.1 1149.5H386.4V1154.9H370.1ZM636.3 1149.5H658.1V1154.9H636.3ZM1125.3 1149.5H1147.1V1154.9H1125.3ZM1190.5 1149.5H1223.1V1154.9H1190.5ZM1511.1 1149.5H1532.8V1154.9H1511.1ZM1543.7 1149.5H1565.4V1154.9H1543.7ZM630.9 1154.9H652.6V1160.3H630.9ZM1130.8 1154.9H1152.5V1160.3H1130.8ZM1179.6 1154.9H1234.0V1160.3H1179.6ZM1516.5 1154.9H1543.7V1160.3H1516.5ZM1549.1 1154.9H1570.8V1160.3H1549.1ZM625.5 1160.3H647.2V1165.8H625.5ZM1136.2 1160.3H1157.9V1165.8H1136.2ZM1174.2 1160.3H1195.9V1165.8H1174.2ZM1217.7 1160.3H1239.4V1165.8H1217.7ZM1527.4 1160.3H1549.1V1165.8H1527.4ZM1554.5 1160.3H1576.3V1165.8H1554.5ZM620.1 1165.8H641.8V1171.2H620.1ZM1147.1 1165.8H1190.5V1171.2H1147.1ZM1228.5 1165.8H1250.3V1171.2H1228.5ZM1532.8 1165.8H1560.0V1171.2H1532.8ZM1565.4 1165.8H1587.1V1171.2H1565.4ZM614.6 1171.2H636.3V1176.6H614.6ZM1234.0 1171.2H1255.7V1176.6H1234.0ZM1543.7 1171.2H1565.4V1176.6H1543.7ZM1570.8 1171.2H1592.6V1176.6H1570.8ZM609.2 1176.6H630.9V1182.1H609.2ZM1152.5 1171.2H1179.6V1182.1H1152.5ZM1239.4 1176.6H1261.1V1182.1H1239.4ZM1549.1 1176.6H1598.0V1182.1H1549.1ZM598.3 1182.1H620.1V1187.5H598.3ZM1147.1 1182.1H1185.1V1187.5H1147.1ZM1244.8 1182.1H1266.6V1187.5H1244.8ZM1560.0 1182.1H1608.9V1187.5H1560.0ZM592.9 1187.5H614.6V1192.9H592.9ZM1147.1 1187.5H1163.4V1192.9H1147.1ZM1168.8 1187.5H1195.9V1192.9H1168.8ZM1250.3 1187.5H1272.0V1192.9H1250.3ZM1570.8 1187.5H1614.3V1192.9H1570.8ZM582.0 1192.9H609.2V1198.4H582.0ZM1141.6 1192.9H1157.9V1198.4H1141.6ZM1179.6 1192.9H1201.4V1198.4H1179.6ZM1255.7 1192.9H1272.0V1198.4H1255.7ZM1576.3 1192.9H1625.2V1198.4H1576.3ZM576.6 1198.4H598.3V1203.8H576.6ZM1136.2 1198.4H1152.5V1203.8H1136.2ZM1185.1 1198.4H1206.8V1203.8H1185.1ZM1261.1 1198.4H1277.4V1203.8H1261.1ZM1587.1 1198.4H1636.0V1203.8H1587.1ZM565.7 1203.8H592.9V1209.2H565.7ZM1130.8 1203.8H1147.1V1209.2H1130.8ZM1190.5 1203.8H1217.7V1209.2H1190.5ZM1266.6 1203.8H1282.9V1209.2H1266.6ZM1598.0 1203.8H1646.9V1209.2H1598.0ZM560.3 1209.2H582.0V1214.7H560.3ZM1125.3 1209.2H1141.6V1214.7H1125.3ZM1201.4 1209.2H1228.5V1214.7H1201.4ZM1272.0 1209.2H1288.3V1214.7H1272.0ZM1608.9 1209.2H1657.8V1214.7H1608.9ZM549.4 1214.7H576.6V1220.1H549.4ZM1119.9 1214.7H1136.2V1220.1H1119.9ZM1212.2 1214.7H1239.4V1220.1H1212.2ZM1277.4 1214.7H1293.7V1220.1H1277.4ZM1625.2 1214.7H1668.6V1220.1H1625.2ZM538.6 1220.1H565.7V1225.5H538.6ZM1114.5 1220.1H1130.8V1225.5H1114.5ZM1217.7 1220.1H1250.3V1225.5H1217.7ZM1282.9 1220.1H1299.2V1225.5H1282.9ZM1636.0 1220.1H1684.9V1225.5H1636.0ZM522.3 1225.5H554.9V1231.0H522.3ZM1109.0 1225.5H1125.3V1231.0H1109.0ZM1228.5 1225.5H1261.1V1231.0H1228.5ZM1288.3 1225.5H1304.6V1231.0H1288.3ZM1364.4 1225.5H1462.2V1231.0H1364.4ZM1652.3 1225.5H1701.2V1231.0H1652.3ZM511.4 1231.0H544.0V1236.4H511.4ZM1098.2 1231.0H1119.9V1236.4H1098.2ZM1239.4 1231.0H1277.4V1236.4H1239.4ZM1293.7 1231.0H1315.5V1236.4H1293.7ZM1337.2 1231.0H1494.8V1236.4H1337.2ZM1668.6 1231.0H1723.0V1236.4H1668.6ZM495.1 1236.4H533.1V1241.8H495.1ZM1092.7 1236.4H1114.5V1241.8H1092.7ZM1255.7 1236.4H1293.7V1241.8H1255.7ZM1299.2 1236.4H1369.8V1241.8H1299.2ZM1462.2 1236.4H1521.9V1241.8H1462.2ZM1690.4 1236.4H1744.7V1241.8H1690.4ZM473.4 1241.8H516.8V1247.3H473.4ZM1081.9 1241.8H1109.0V1247.3H1081.9ZM1266.6 1241.8H1337.2V1247.3H1266.6ZM1489.3 1241.8H1543.7V1247.3H1489.3ZM1712.1 1241.8H1771.8V1247.3H1712.1ZM451.6 1247.3H500.5V1252.7H451.6ZM1071.0 1247.3H1103.6V1252.7H1071.0ZM1255.7 1247.3H1342.6V1252.7H1255.7ZM1516.5 1247.3H1570.8V1252.7H1516.5ZM1733.8 1247.3H1809.9V1252.7H1733.8ZM413.6 1252.7H478.8V1258.1H413.6ZM1054.7 1252.7H1092.7V1258.1H1054.7ZM1217.7 1252.7H1288.3V1258.1H1217.7ZM1304.6 1252.7H1375.2V1258.1H1304.6ZM1538.2 1252.7H1608.9V1258.1H1538.2ZM1766.4 1252.7H1869.6V1258.1H1766.4ZM370.1 1258.1H451.6V1263.6H370.1ZM1022.1 1258.1H1081.9V1263.6H1022.1ZM1147.1 1258.1H1261.1V1263.6H1147.1ZM1331.8 1258.1H1456.7V1263.6H1331.8ZM1570.8 1258.1H1679.5V1263.6H1570.8ZM1804.4 1258.1H1929.4V1263.6H1804.4ZM370.1 1263.6H1223.1V1269.0H370.1ZM1353.5 1263.6H1929.4V1269.0H1353.5ZM370.1 1269.0H1130.8V1274.4H370.1ZM1397.0 1269.0H1929.4V1274.4H1397.0Z"/>
<g stroke="#000" stroke-width="5.2" stroke-linecap="butt"><line x1="367.3" y1="116.5" x2="367.3" y2="1285.8" /><line x1="365" y1="1272.4" x2="1931" y2="1272.4" /><line x1="336.7" y1="1272.4" x2="368" y2="1272.4" /><line x1="352.5" y1="1201.3" x2="368" y2="1201.3" /><line x1="352.5" y1="1130.3" x2="368" y2="1130.3" /><line x1="352.5" y1="1059.3" x2="368" y2="1059.3" /><line x1="352.5" y1="988.3" x2="368" y2="988.3" /><line x1="336.7" y1="917.3" x2="368" y2="917.3" /><line x1="352.5" y1="845.3" x2="368" y2="845.3" /><line x1="352.5" y1="773.2" x2="368" y2="773.2" /><line x1="352.5" y1="701.2" x2="368" y2="701.2" /><line x1="352.5" y1="629.0" x2="368" y2="629.0" /><line x1="336.7" y1="557.1" x2="368" y2="557.1" /><line x1="352.5" y1="484.5" x2="368" y2="484.5" /><line x1="352.5" y1="417.3" x2="368" y2="417.3" /><line x1="352.5" y1="346.0" x2="368" y2="346.0" /><line x1="352.5" y1="274.7" x2="368" y2="274.7" /><line x1="336.7" y1="202.5" x2="368" y2="202.5" /><line x1="352.5" y1="129.8" x2="368" y2="129.8" /><line x1="449.7" y1="1272" x2="449.7" y2="1301" /><line x1="538.1" y1="1272" x2="538.1" y2="1285.8" /><line x1="626.6" y1="1272" x2="626.6" y2="1285.8" /><line x1="715.0" y1="1272" x2="715.0" y2="1285.8" /><line x1="803.5" y1="1272" x2="803.5" y2="1285.8" /><line x1="884.4" y1="1272" x2="884.4" y2="1301" /><line x1="972.9" y1="1272" x2="972.9" y2="1285.8" /><line x1="1061.3" y1="1272" x2="1061.3" y2="1285.8" /><line x1="1149.8" y1="1272" x2="1149.8" y2="1285.8" /><line x1="1238.2" y1="1272" x2="1238.2" y2="1285.8" /><line x1="1319.0" y1="1272" x2="1319.0" y2="1301" /><line x1="1407.5" y1="1272" x2="1407.5" y2="1285.8" /><line x1="1495.9" y1="1272" x2="1495.9" y2="1285.8" /><line x1="1584.3" y1="1272" x2="1584.3" y2="1285.8" /><line x1="1672.8" y1="1272" x2="1672.8" y2="1285.8" /><line x1="1753.5" y1="1272" x2="1753.5" y2="1301" /><line x1="1842.0" y1="1272" x2="1842.0" y2="1285.8" /><line x1="1930.4" y1="1272" x2="1930.4" y2="1285.8" /></g>
<g font-family="Liberation Sans, Arial, sans-serif" font-size="76" fill="#000" stroke="#fff" stroke-width="0.8"><text transform="translate(321.6,1292.4) scale(0.88,1)" text-anchor="end" letter-spacing="2">0</text><text transform="translate(321.6,937.3) scale(0.88,1)" text-anchor="end" letter-spacing="2">100</text><text transform="translate(321.6,577.1) scale(0.88,1)" text-anchor="end" letter-spacing="2">200</text><text transform="translate(321.6,222.5) scale(0.88,1)" text-anchor="end" letter-spacing="2">300</text><text transform="translate(447.2,1368.6) scale(0.88,1)" text-anchor="middle" letter-spacing="2">2.0</text><text transform="translate(881.8,1368.6) scale(0.88,1)" text-anchor="middle" letter-spacing="2">2.5</text><text transform="translate(1316.5,1368.6) scale(0.88,1)" text-anchor="middle" letter-spacing="2">3.0</text><text transform="translate(1751.1,1368.6) scale(0.88,1)" text-anchor="middle" letter-spacing="2">3.5</text></g>
<g font-family="Liberation Sans, Arial, sans-serif" font-size="88" fill="#000" stroke="#000" stroke-width="3.2" stroke-linejoin="round" lengthAdjust="spacingAndGlyphs">
<text x="749.9" y="1505.3" textLength="308.5">Photon</text>
<text x="1090.4" y="1505.3" textLength="316.7">energy,</text>
<text x="1431.0" y="1505.3" textLength="104.7">eV</text>
<text transform="translate(87.8,1015.6) rotate(-90)" textLength="113.9">CL</text>
<text transform="translate(87.8,869.5) rotate(-90)" textLength="408.4">intensity,</text>
<text transform="translate(87.8,433.4) rotate(-90)" textLength="158.2">a.u.</text>
</g>
</g>
</svg>
</body></html>
